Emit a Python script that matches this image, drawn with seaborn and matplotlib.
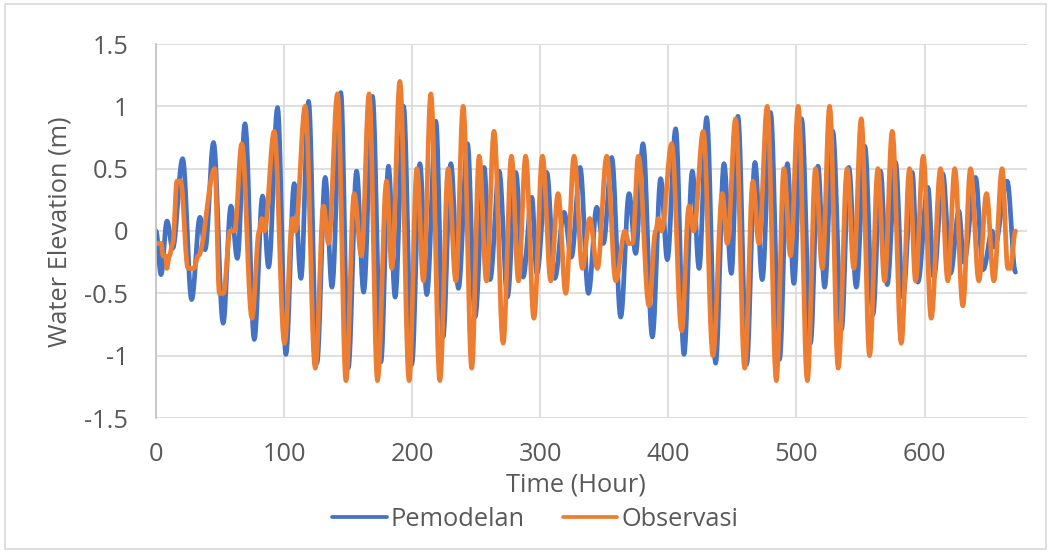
import numpy as np
import pandas as pd
import matplotlib
matplotlib.use("Agg")
import matplotlib.pyplot as plt
import seaborn as sns
from matplotlib.patches import Rectangle
from matplotlib.lines import Line2D

# ---- data: turning points (hour, water elevation in m) ----
pem_hour = [0, 3.9, 8.6, 13.0, 20.8, 27.8, 34.3, 38.3, 44.9, 52.4, 58.5, 63.5, 69.5, 76.7, 83.2, 87.9,
            94.9, 101.4, 107.9, 113.2, 119.1, 125.6, 132.1, 137.4, 144.3, 150.1, 156.6, 162.1, 169.0,
            175.6, 181.5, 186.7, 193.3, 199.7, 206.0, 211.4, 218.5, 224.1, 230.2, 236.1, 243.2, 249.1,
            256.2, 260.8, 267.9, 274.4, 280.9, 286.6, 293.4, 297.3, 305.1, 311.3, 318.6, 324.3, 331.1,
            337.6, 344.1, 349.3, 355.8, 362.8, 369.3, 374.5, 380.2, 387.5, 394.0, 399.2, 405.7, 412.2,
            418.7, 424.0, 429.9, 436.9, 443.4, 449.2, 454.3, 461.1, 467.6, 473.3, 479.8, 486.8, 492.9,
            498.0, 504.0, 511.0, 516.8, 522.0, 528.4, 535.2, 540.9, 546.7, 553.4, 559.7, 565.6, 570.9,
            577.4, 583.1, 590.4, 594.8, 602.6, 607.3, 614.3, 620.3, 626.8, 630.7, 639.8, 645.8, 652.8,
            654.6, 664.5, 671.0]
pem_value = [0.0, -0.35, 0.08, -0.14, 0.58, -0.55, 0.11, -0.15, 0.71, -0.74, 0.20, -0.22, 0.86, -0.87,
             0.28, -0.29, 0.99, -0.99, 0.38, -0.38, 1.04, -1.06, 0.43, -0.45, 1.11, -1.10, 0.48, -0.49,
             1.08, -1.05, 0.52, -0.53, 1.00, -1.07, 0.54, -0.51, 0.88, -0.85, 0.54, -0.46, 0.70, -0.69,
             0.51, -0.39, 0.48, -0.53, 0.47, -0.37, 0.27, -0.34, 0.47, -0.38, 0.15, -0.21, 0.51, -0.50,
             0.19, -0.10, 0.59, -0.69, 0.30, -0.18, 0.70, -0.85, 0.42, -0.23, 0.82, -0.99, 0.48, -0.30,
             0.91, -1.06, 0.54, -0.34, 0.92, -1.07, 0.55, -0.39, 0.95, -1.03, 0.54, -0.42, 0.90, -0.90,
             0.52, -0.45, 0.80, -0.79, 0.51, -0.45, 0.68, -0.67, 0.48, -0.43, 0.55, -0.53, 0.47, -0.41,
             0.35, -0.37, 0.46, -0.34, 0.16, -0.25, 0.43, -0.31, 0.0, -0.13, 0.40, -0.33]

obs_hour = [0, 4.0, 5.5, 7.5, 8.4, 10.4, 13.0, 16.4, 19.2, 25.0, 29.4, 33.0, 45.9, 49.5, 52.7, 57.8,
            61.3, 67.0, 74.9, 80.6, 82.6, 84.7, 92.3, 100.3, 106.6, 108.8, 116.5, 124.3, 130.8, 134.7,
            141.7, 148.3, 154.7, 160.4, 166.4, 172.9, 180.0, 184.1, 190.4, 197.6, 203.7, 208.8, 214.6,
            221.6, 228.1, 234.1, 239.8, 246.5, 252.3, 258.0, 263.9, 271.0, 277.5, 283.0, 288.6, 295.0,
            301.7, 308.2, 313.9, 319.9, 326.4, 332.9, 338.6, 344.6, 351.9, 358.9, 366.2, 369.0, 372.0,
            376.6, 384.9, 390.1, 392.2, 394.8, 402.6, 410.4, 416.1, 419.8, 427.3, 434.8, 442.1, 446.0,
            452.5, 459.6, 466.0, 470.7, 477.2, 484.3, 490.2, 495.4, 501.4, 508.5, 514.9, 520.2, 525.9,
            532.6, 539.6, 544.8, 550.6, 557.1, 563.6, 568.8, 574.8, 581.8, 588.3, 593.0, 599.0, 605.2,
            612.5, 618.2, 623.6, 629.9, 635.9, 642.4, 648.4, 654.1, 660.6, 665.0, 667.0, 671.0]
obs_value = [-0.1, -0.1, -0.2, -0.2, -0.3, -0.2, -0.1, 0.4, 0.4, -0.3, -0.3, -0.2, 0.5, -0.5, -0.5, 0.0,
             0.0, 0.7, -0.7, 0.0, 0.1, 0.0, 0.8, -0.9, 0.1, 0.0, 1.0, -1.1, 0.2, -0.1,
             1.1, -1.2, 0.3, -0.2, 1.1, -1.2, 0.4, -0.3, 1.2, -1.2, 0.5, -0.4, 1.1,
             -1.2, 0.5, -0.4, 1.0, -1.1, 0.6, -0.4, 0.8, -0.9, 0.6, -0.4, 0.6, -0.7,
             0.6, -0.4, 0.3, -0.5, 0.6, -0.3, 0.1, -0.3, 0.6, -0.4, 0.0, -0.1, -0.1,
             0.6, -0.6, 0.0, 0.1, 0.0, 0.7, -0.8, 0.2, 0.0, 0.8, -1.0, 0.3, -0.1,
             0.9, -1.1, 0.4, -0.1, 1.0, -1.2, 0.5, -0.2, 1.0, -1.2, 0.5, -0.3, 1.0,
             -1.1, 0.5, -0.3, 0.9, -1.0, 0.5, -0.4, 0.8, -0.9, 0.5, -0.4, 0.6, -0.7,
             0.5, -0.4, 0.5, -0.6, 0.5, -0.4, 0.3, -0.4, 0.5, -0.3, -0.3, 0.0]

series_names = ["Pemodelan", "Observasi"]
x_ticks = [0, 100, 200, 300, 400, 500, 600]
y_ticks = [-1.5, -1, -0.5, 0, 0.5, 1, 1.5]
y_tick_labels = ["-1.5", "-1", "-0.5", "0", "0.5", "1", "1.5"]


def smooth_curve(hours, values, n=12):
    """Render a smooth line through turning points (like Excel's smoothed line)."""
    xs, ys = [], []
    for i in range(len(hours) - 1):
        t = np.linspace(0, 1, n, endpoint=False)
        e = (1 - np.cos(np.pi * t)) / 2
        xs.append(hours[i] + (hours[i + 1] - hours[i]) * t)
        ys.append(values[i] + (values[i + 1] - values[i]) * e)
    xs.append([hours[-1]])
    ys.append([values[-1]])
    return np.concatenate(xs), np.concatenate(ys)


px, py = smooth_curve(pem_hour, pem_value)
ox, oy = smooth_curve(obs_hour, obs_value)
df = pd.concat([
    pd.DataFrame({"Time": px, "Elev": py, "Series": series_names[0]}),
    pd.DataFrame({"Time": ox, "Elev": oy, "Series": series_names[1]}),
])

sns.set_theme(style="white")
plt.rcParams["font.family"] = ["Open Sans", "DejaVu Sans"]
TXT = "#595959"
FS = 18.3

fig = plt.figure(figsize=(10.52, 5.53), dpi=100)
ax = fig.add_axes([156 / 1052, 1 - 418 / 553, (1027 - 156) / 1052, (418 - 44) / 553])

palette = {"Pemodelan": "#4472C4", "Observasi": "#ED7D31"}
sns.lineplot(data=df, x="Time", y="Elev", hue="Series", palette=palette, sort=False,
             estimator=None, units="Series", linewidth=3.4, ax=ax, legend=False)

ax.set_xlim(0, 680)
ax.set_ylim(-1.5, 1.5)
ax.set_xticks(x_ticks)
ax.set_yticks(y_ticks)
ax.set_yticklabels(y_tick_labels)
ax.grid(True, color="#D9D9D9", linewidth=1.2)
ax.set_axisbelow(True)
for s in ["top", "right", "bottom"]:
    ax.spines[s].set_visible(False)
ax.spines["left"].set_color("#BFBFBF")
ax.spines["left"].set_linewidth(1.2)
ax.tick_params(axis="both", length=0, labelsize=FS, labelcolor=TXT)
ax.tick_params(axis="y", pad=20)
ax.tick_params(axis="x", pad=17)
ax.set_xlabel("")
ax.set_ylabel("")
fig.text(60 / 1052, 1 - 232 / 553, "Water Elevation (m)", rotation=90, ha="center", va="center",
         fontsize=FS, color=TXT)
fig.text(576 / 1052, 1 - 485 / 553, "Time (Hour)", ha="center", va="center",
         fontsize=FS, color=TXT)

handles = [Line2D([0], [0], color=palette[n], linewidth=2.7) for n in series_names]
leg = fig.legend(handles, series_names, loc="center", bbox_to_anchor=(535 / 1052, 1 - 519 / 553),
                 ncol=2, frameon=False, fontsize=FS, handlelength=2.15, handletextpad=0.15,
                 columnspacing=1.5, borderpad=0)
for t in leg.get_texts():
    t.set_color(TXT)

fig.patches.append(Rectangle((5 / 1052, 4 / 553), 1041 / 1052, 545 / 553, transform=fig.transFigure,
                             fill=False, edgecolor="#D9D9D9", linewidth=1.2))

fig.savefig("out.png", dpi=100)
